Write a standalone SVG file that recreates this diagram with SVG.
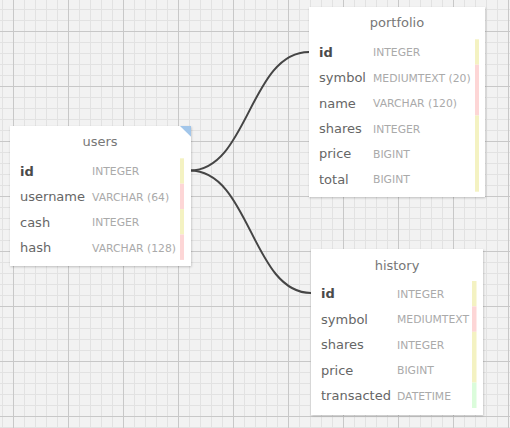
<svg xmlns="http://www.w3.org/2000/svg" width="510" height="428" viewBox="0 0 510 428">
<style>
.box{fill:#fff;filter:url(#sh)}
.title{font-family:"DejaVu Sans",sans-serif;font-size:13px;fill:#777;text-anchor:middle}
.nm{font-family:"DejaVu Sans",sans-serif;font-size:13px;fill:#666}
.pk{font-weight:bold;fill:#4a4a4a}
.ty{font-family:"DejaVu Sans",sans-serif;font-size:10.8px;fill:#aaa}
.y{fill:#f4f2c2}
.p{fill:#fdd6d6}
.g{fill:#dbfcdb}
.conn{fill:none;stroke:#454545;stroke-width:2}
</style>
<defs>
<pattern id="grid" patternUnits="userSpaceOnUse" x="13" y="31" width="55" height="55">
<rect width="55" height="55" fill="#f2f2f2"/>
<g fill="#e2e2e2">
<rect x="11" y="0" width="1" height="55"/><rect x="22" y="0" width="1" height="55"/><rect x="33" y="0" width="1" height="55"/><rect x="44" y="0" width="1" height="55"/>
<rect x="0" y="11" width="55" height="1"/><rect x="0" y="22" width="55" height="1"/><rect x="0" y="33" width="55" height="1"/><rect x="0" y="44" width="55" height="1"/>
</g>
<g fill="#c8c8c8"><rect x="0" y="0" width="1" height="55"/><rect x="0" y="0" width="55" height="1"/></g>
</pattern>
<filter id="sh" x="-10%" y="-10%" width="120%" height="120%">
<feDropShadow dx="0.5" dy="1" stdDeviation="1.2" flood-color="#000" flood-opacity="0.22"/>
</filter>
</defs>
<rect width="510" height="428" fill="url(#grid)"/>
<g id="connectors">
<path class="conn" d="M190,170.5 C248,170.5 250,52 309,52"/>
<path class="conn" d="M190,170.5 C250,170.5 252,293 311,293"/>
</g>
<g id="users" transform="translate(10,126)">
<rect class="box" width="181" height="140"/>
<polygon points="170,0 181,0 181,10.7" fill="#a2c6ea"/>
<text class="title" x="90" y="20">users</text>
<rect class="y" x="170" y="32.3" width="4" height="25.4"/>
<rect class="p" x="170" y="57.7" width="4" height="25.4"/>
<rect class="y" x="170" y="83.1" width="4" height="25.4"/>
<rect class="p" x="170" y="108.5" width="4" height="25.4"/>
<text class="nm pk" x="10" y="49.7">id</text><text class="ty" x="82" y="49.3">INTEGER</text>
<text class="nm" x="10" y="75.1">username</text><text class="ty" x="82" y="74.7">VARCHAR (64)</text>
<text class="nm" x="10" y="100.5">cash</text><text class="ty" x="82" y="100.1">INTEGER</text>
<text class="nm" x="10" y="125.9">hash</text><text class="ty" x="82" y="125.5">VARCHAR (128)</text>
</g>
<g id="portfolio" transform="translate(309,7)">
<rect class="box" width="176" height="190"/>
<text class="title" x="88" y="20">portfolio</text>
<rect class="y" x="166" y="32.3" width="4" height="25.4"/>
<rect class="p" x="166" y="57.7" width="4" height="50.8"/>
<rect class="y" x="166" y="108.5" width="4" height="76.2"/>
<text class="nm pk" x="10" y="49.7">id</text><text class="ty" x="64" y="49.3">INTEGER</text>
<text class="nm" x="10" y="75.1">symbol</text><text class="ty" x="64" y="74.7">MEDIUMTEXT (20)</text>
<text class="nm" x="10" y="100.5">name</text><text class="ty" x="64" y="100.1">VARCHAR (120)</text>
<text class="nm" x="10" y="125.9">shares</text><text class="ty" x="64" y="125.5">INTEGER</text>
<text class="nm" x="10" y="151.3">price</text><text class="ty" x="64" y="150.9">BIGINT</text>
<text class="nm" x="10" y="176.7">total</text><text class="ty" x="64" y="176.3">BIGINT</text>
</g>
<g id="history" transform="translate(311,249)">
<rect class="box" width="172" height="166"/>
<text class="title" x="86" y="20.5">history</text>
<rect class="y" x="161" y="32" width="4.5" height="25.4"/>
<rect class="p" x="161" y="57.4" width="4.5" height="25.4"/>
<rect class="y" x="161" y="82.8" width="4.5" height="50.8"/>
<rect class="g" x="161" y="133.6" width="4.5" height="25.4"/>
<text class="nm pk" x="10" y="49.4">id</text><text class="ty" x="86" y="49">INTEGER</text>
<text class="nm" x="10" y="74.8">symbol</text><text class="ty" x="86" y="74.4">MEDIUMTEXT</text>
<text class="nm" x="10" y="100.2">shares</text><text class="ty" x="86" y="99.8">INTEGER</text>
<text class="nm" x="10" y="125.6">price</text><text class="ty" x="86" y="125.2">BIGINT</text>
<text class="nm" x="10" y="151">transacted</text><text class="ty" x="86" y="150.6">DATETIME</text>
</g>
</svg>
